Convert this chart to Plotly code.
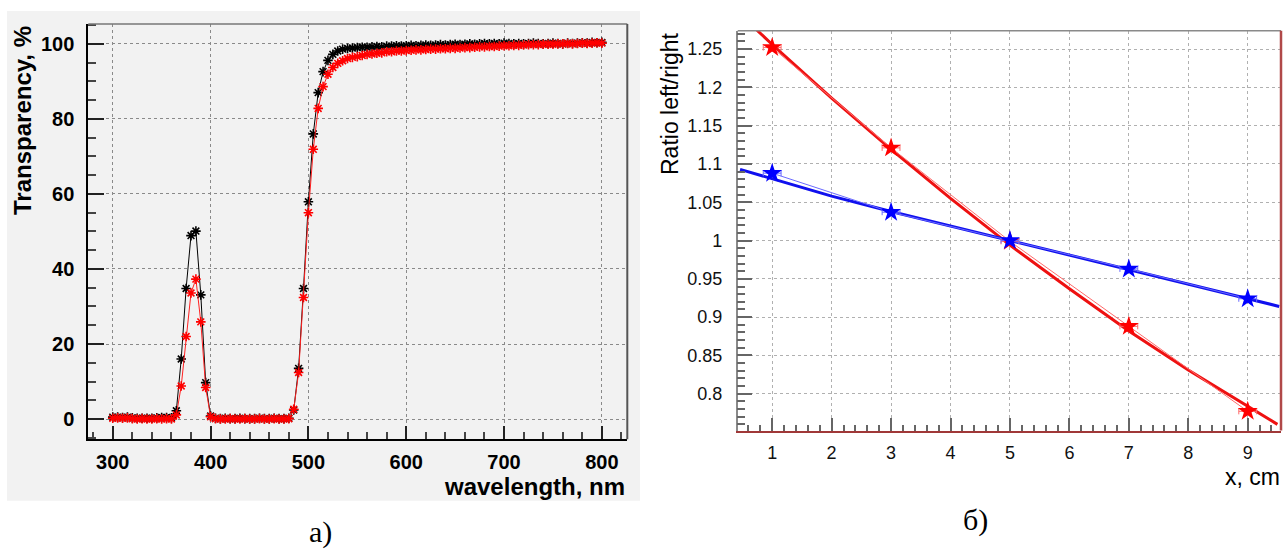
import plotly.graph_objects as go

W, H = 1284, 549

# ---------------- data: panel a) ----------------
wavelength = list(range(300, 805, 5))
black_T = [
    0.5, 0.5, 0.4, 0.5, 0.3, 0.2, 0.2, 0.2, 0.2, 0.3, 0.4, 0.4, 0.3,
    2.2, 16.0, 34.8, 48.9, 50.1, 33.1, 9.7, 0.8,
    0.2, 0.1, 0.2, 0.1, 0.1, 0.2, 0.1, 0.1, 0.1, 0.2, 0.1, 0.1, 0.2, 0.1, 0.1,
    0.2, 2.4, 13.5, 34.8, 57.9, 76.0, 87.0, 92.6, 95.6, 97.2, 98.1, 98.6, 98.8,
    98.9, 99.0, 99.1, 99.1, 99.2, 99.3, 99.2, 99.4, 99.4, 99.5, 99.4, 99.5,
    99.6, 99.5, 99.6, 99.7, 99.6, 99.7, 99.8, 99.7, 99.8, 99.9,
    99.8, 99.9, 100.0, 99.9, 100.0, 100.1, 100.0, 100.1, 100.0, 100.2,
    100.1, 100.0, 100.1, 100.0, 100.1, 100.2, 100.1, 100.0, 100.1, 100.2,
    100.1, 100.0, 100.2, 100.1, 100.2, 100.3, 100.2, 100.4, 100.3, 100.4,
]
red_T = [
    0.2, 0.3, 0.2, 0.3, 0.1, 0.0, 0.1, 0.0, 0.0, 0.1, 0.0, 0.1, 0.0,
    1.1, 8.8, 22.0, 33.6, 37.3, 25.9, 8.4, 0.6,
    0.1, 0.0, 0.0, 0.1, 0.0, 0.0, 0.1, 0.0, 0.0, 0.1, 0.0, 0.0, 0.1, 0.0, 0.0,
    0.1, 2.6, 12.4, 32.4, 55.0, 71.9, 82.8, 88.6, 91.9, 93.7, 94.8, 95.5, 96.1,
    96.4, 96.6, 96.9, 97.2, 97.3, 97.5, 97.6, 97.9, 97.9, 98.1, 98.1, 98.2,
    98.3, 98.4, 98.4, 98.5, 98.6, 98.6, 98.7, 98.7, 98.8, 98.8,
    98.9, 99.0, 99.0, 99.1, 99.2, 99.2, 99.3, 99.3, 99.4, 99.5,
    99.5, 99.6, 99.6, 99.7, 99.8, 99.8, 99.8, 99.9, 99.9, 99.9,
    100.0, 100.0, 100.1, 100.0, 100.1, 100.2, 100.1, 100.2, 100.3, 100.2,
]

# ---------------- data: panel б) ----------------
pos_x = [1, 3, 5, 7, 9]
ratio_red = [1.252, 1.121, 0.999, 0.888, 0.777]
ratio_blue = [1.088, 1.037, 1.000, 0.963, 0.924]
x_err = [0.15, 0.15, 0.15, 0.15, 0.15]
y_err = [0.004, 0.004, 0.004, 0.004, 0.004]
fit_red_x = [0.74, 1.0, 2.0, 3.0, 4.0, 5.0, 6.0, 7.0, 8.0, 9.0, 9.5]
fit_red_y = [1.275, 1.256, 1.186, 1.119, 1.055, 0.994, 0.937, 0.882, 0.831, 0.783, 0.760]
fit_blue_x = [0.46, 1.0, 2.0, 3.0, 4.0, 5.0, 6.0, 7.0, 8.0, 9.0, 9.53]
fit_blue_y = [1.093, 1.081, 1.058, 1.038, 1.019, 1.000, 0.981, 0.962, 0.943, 0.924, 0.914]


def px(x):
    return x / W


def py(y):
    return 1 - y / H


# panel geometry (pixels)
L1, R1, T1, B1 = 88.3, 627.3, 24.0, 439.3
L2, R2, T2, B2 = 737.7, 1281.0, 30.7, 430.5

fig = go.Figure()

# panel a traces
fig.add_trace(go.Scatter(
    x=wavelength, y=black_T, mode="lines+markers", xaxis="x", yaxis="y",
    line=dict(color="black", width=1),
    marker=dict(symbol="asterisk-open", size=8, color="black",
                line=dict(color="black", width=1.6)),
    showlegend=False))
fig.add_trace(go.Scatter(
    x=wavelength, y=red_T, mode="lines+markers", xaxis="x", yaxis="y",
    line=dict(color="#ff2020", width=1),
    marker=dict(symbol="asterisk-open", size=8, color="red",
                line=dict(color="red", width=1.6)),
    showlegend=False))

# panel b traces
for fx, fy, col in [(fit_red_x, fit_red_y, "#ee1111"), (fit_blue_x, fit_blue_y, "#1010ee")]:
    fig.add_trace(go.Scatter(x=fx, y=fy, mode="lines", xaxis="x2", yaxis="y2",
                             line=dict(color=col, width=3), showlegend=False))
for yy, col, lcol in [(ratio_red, "#ff0000", "#ff6a6a"), (ratio_blue, "#0000ff", "#6a6aff")]:
    fig.add_trace(go.Scatter(
        x=pos_x, y=yy, mode="lines+markers", xaxis="x2", yaxis="y2",
        line=dict(color=lcol, width=1),
        marker=dict(symbol="star", size=15, color=col, line=dict(width=0)),
        error_x=dict(type="data", array=x_err, color=lcol, thickness=1, width=3),
        error_y=dict(type="data", array=y_err, color=lcol, thickness=1, width=2),
        showlegend=False))

bold = dict(family="Liberation Sans, Arial, sans-serif", size=20, color="black", weight="bold")
reg = dict(family="Liberation Sans, Arial, sans-serif", size=18, color="#111")

fig.update_layout(
    width=W, height=H,
    margin=dict(l=0, r=0, t=0, b=0),
    paper_bgcolor="white",
    plot_bgcolor="rgba(0,0,0,0)",
    xaxis=dict(
        domain=[px(L1), px(R1)], range=[275.0, 826.0], anchor="y",
        tick0=300, dtick=100, ticks="inside", ticklen=13, tickwidth=1.5, tickcolor="#222",
        minor=dict(dtick=20, tick0=300, ticks="inside", ticklen=7, tickcolor="#444", showgrid=False),
        showgrid=True, gridcolor="#8a8a8a", griddash="dot", gridwidth=1,
        showline=True, linecolor="black", linewidth=2, zeroline=False,
        tickfont=bold, ticklabelstandoff=4,
    ),
    yaxis=dict(
        domain=[py(B1), py(T1)], range=[-5.4, 105.3], anchor="x",
        tick0=0, dtick=20, ticks="inside", ticklen=16, tickwidth=1.5, tickcolor="#222",
        minor=dict(dtick=5, tick0=0, ticks="inside", ticklen=8, tickcolor="#444", showgrid=False),
        showgrid=True, gridcolor="#8a8a8a", griddash="dot", gridwidth=1,
        showline=True, linecolor="black", linewidth=2, zeroline=False,
        tickfont=bold, ticklabelstandoff=8,
    ),
    xaxis2=dict(
        domain=[px(L2), px(R2)], range=[0.42, 9.56], anchor="y2",
        tick0=1, dtick=1, ticks="inside", ticklen=13, tickwidth=1.5, tickcolor="#666",
        minor=dict(dtick=0.2, tick0=0, ticks="inside", ticklen=6, tickcolor="#666", showgrid=False),
        showgrid=True, gridcolor="#b0b0b0", griddash="dot", gridwidth=1,
        showline=True, linecolor="#a03838", linewidth=2, zeroline=False,
        tickfont=reg, ticklabelstandoff=5,
    ),
    yaxis2=dict(
        domain=[py(B2), py(T2)], range=[0.752, 1.274], anchor="x2",
        tick0=0.8, dtick=0.05, ticks="inside", ticklen=15, tickwidth=1.5, tickcolor="#666",
        minor=dict(dtick=0.01, tick0=0.8, ticks="inside", ticklen=8, tickcolor="#666", showgrid=False),
        showgrid=True, gridcolor="#b0b0b0", griddash="dot", gridwidth=1,
        showline=True, linecolor="#8a8a8a", linewidth=1.5, zeroline=False,
        tickfont=reg, ticklabelstandoff=10,
    ),
)

shapes = [
    # gray canvas behind panel a
    dict(type="rect", xref="paper", yref="paper", x0=px(7), x1=px(640), y0=py(500.7), y1=py(11),
         fillcolor="#f2f2f2", line=dict(width=0), layer="below"),
    # frame of panel a
    dict(type="line", xref="paper", yref="paper", x0=px(L1), x1=px(R1), y0=py(T1), y1=py(T1),
         line=dict(color="#777", width=1.5)),
    dict(type="line", xref="paper", yref="paper", x0=px(R1), x1=px(R1), y0=py(B1), y1=py(T1),
         line=dict(color="#555", width=2)),
    # frame of panel b
    dict(type="line", xref="paper", yref="paper", x0=px(L2), x1=px(R2), y0=py(T2), y1=py(T2),
         line=dict(color="#8a8a8a", width=1.5)),
    dict(type="line", xref="paper", yref="paper", x0=px(R2), x1=px(R2), y0=py(B2), y1=py(T2),
         line=dict(color="#b04848", width=2.5)),
]
fig.update_layout(shapes=shapes)

title_b = dict(family="Liberation Sans, Arial, sans-serif", size=24, color="black", weight="bold")
title_r = dict(family="Liberation Sans, Arial, sans-serif", size=23, color="black")
serif = dict(family="Liberation Serif, DejaVu Serif, serif", size=30, color="black")

ann = [
    dict(text="wavelength, nm", x=px(627), y=py(486), xanchor="right", yanchor="middle",
         font=title_b),
    dict(text="Transparency, %", x=px(23), y=py(121), xanchor="center", yanchor="middle",
         textangle=-90, font=title_b),
    dict(text="Ratio left/right", x=px(670), y=py(104), xanchor="center", yanchor="middle",
         textangle=-90, font=title_r),
    dict(text="x, cm", x=px(1282), y=py(477), xanchor="right", yanchor="middle", font=title_r),
    dict(text="а)", x=px(320), y=py(532), xanchor="center", yanchor="middle", font=serif),
    dict(text="б)", x=px(975), y=py(520), xanchor="center", yanchor="middle", font=serif),
]
for a in ann:
    a.update(xref="paper", yref="paper", showarrow=False)
fig.update_layout(annotations=ann)

fig.write_html(
    "out.html",
    config={"displayModeBar": False},
    post_script="document.body.style.margin='0';document.body.style.overflow='hidden';",
)
